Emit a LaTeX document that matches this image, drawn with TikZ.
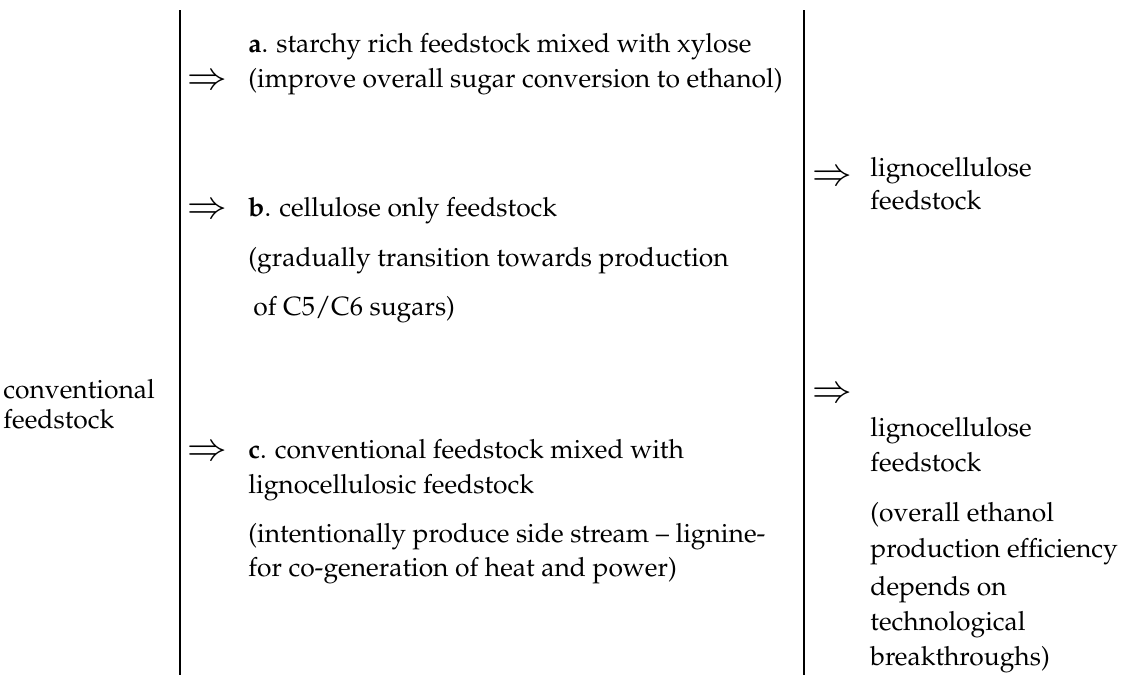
\documentclass[tikz,border=0pt]{standalone}
\usepackage[T1]{fontenc}
\usepackage{mathpazo}

\begin{document}
\begin{tikzpicture}	[x=0.5pt,y=-0.5pt,
	txt/.style={anchor=base west, inner sep=0pt, font=\fontsize{13.2}{16}\selectfont},
	implies/.style={anchor=base west, inner sep=0pt, font=\fontsize{19}{22}\selectfont},
	rule/.style={line width=1pt}]
\useasboundingbox (0,0) rectangle (1122,675);

\coordinate (l1) at (180,10);
\coordinate (l2) at (180,675);
\coordinate (r1) at (804,10);
\coordinate (r2) at (804,675);
\draw[rule] (l1) -- (l2);
\draw[rule] (r1) -- (r2);

\node[txt] (conv1) at (3,398) {conventional};
\node[txt] (conv2) at (3,428) {feedstock};

\node[txt] (a1) at (248,52) {\textbf{a}. starchy rich feedstock mixed with xylose};
\node[implies] (ia) at (187,89) {$\Rightarrow$};
\node[txt] (a2) at (248,87) {(improve overall sugar conversion to ethanol)};

\node[implies] (ib) at (187,218) {$\Rightarrow$};
\node[txt] (b1) at (248,216) {\textbf{b}. cellulose only feedstock};
\node[txt] (b2) at (248,266) {(gradually transition towards production};
\node[txt] (b3) at (253,315) {of C5/C6 sugars)};

\node[implies] (ic) at (187,460) {$\Rightarrow$};
\node[txt] (c1) at (248,458) {\textbf{c}. conventional feedstock mixed with};
\node[txt] (c2) at (248,493) {lignocellulosic feedstock};
\node[txt] (c3) at (248,542) {(intentionally produce side stream -- lignine-};
\node[txt] (c4) at (248,576) {for co-generation of heat and power)};

\node[implies] (id) at (812,185) {$\Rightarrow$};
\node[txt] (d1) at (870,176) {lignocellulose};
\node[txt] (d2) at (870,209) {feedstock};

\node[implies] (ie) at (812,402) {$\Rightarrow$};
\node[txt] (e1) at (870,436) {lignocellulose};
\node[txt] (e2) at (870,471) {feedstock};
\node[txt] (e3) at (870,521) {(overall ethanol};
\node[txt] (e4) at (870,557) {production efficiency};
\node[txt] (e5) at (870,595) {depends on};
\node[txt] (e6) at (870,630) {technological};
\node[txt] (e7) at (870,665) {breakthroughs)};
\end{tikzpicture}
\end{document}
